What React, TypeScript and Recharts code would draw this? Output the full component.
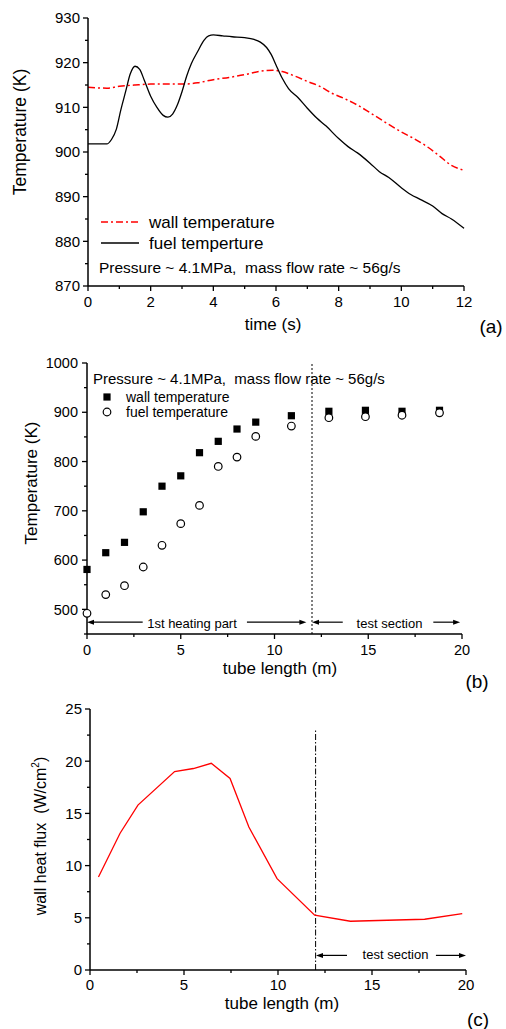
import React from 'react';
import { LineChart, Line, XAxis, YAxis, ScatterChart, Scatter, ReferenceLine } from 'recharts';

const FONT = '"Liberation Sans", Arial, Helvetica, sans-serif';

// ---------- Panel (a) ----------
const fuelTime = [0, 0.3, 0.6, 0.75, 0.9, 1.05, 1.2, 1.35, 1.5, 1.65, 1.8, 2.0, 2.2, 2.4, 2.55, 2.7, 2.85, 3.0, 3.15, 3.3, 3.5, 3.7, 3.85, 4.0, 4.3, 4.6, 5.0, 5.3, 5.5, 5.7, 5.85, 6.0, 6.2, 6.4, 6.7, 7.0, 7.3, 7.6, 8.0, 8.3, 8.6, 9.0, 9.3, 9.6, 10.0, 10.3, 10.6, 11.0, 11.3, 11.6, 12.0];
const fuelTemp = [901.8, 901.8, 901.8, 902.8, 905.0, 909.5, 913.5, 917.5, 919.2, 918.5, 916.0, 912.5, 910.0, 908.2, 907.8, 908.5, 910.5, 913.5, 917.0, 919.8, 922.5, 925.0, 926.0, 926.2, 926.0, 925.8, 925.6, 925.2, 924.6, 923.4, 921.8, 919.5, 916.5, 914.2, 912.2, 909.8, 907.6, 905.8, 903.0, 901.2, 899.8, 897.5, 895.6, 894.3, 892.0, 890.5, 889.4, 887.9, 886.2, 885.0, 882.9];
const wallTime = [0, 0.6, 1.0, 1.5, 2.0, 2.5, 3.0, 3.5, 4.0, 4.5, 5.0, 5.5, 5.9, 6.2, 6.6, 7.0, 7.4, 7.8, 8.2, 8.6, 9.0, 9.5, 10.0, 10.4, 10.8, 11.2, 11.6, 11.95];
const wallTemp = [914.5, 914.3, 914.7, 915.0, 915.2, 915.2, 915.2, 915.5, 916.2, 916.7, 917.3, 918.1, 918.3, 918.0, 917.0, 915.8, 914.7, 913.1, 911.9, 910.5, 908.8, 906.6, 904.5, 903.0, 901.3, 899.2, 897.0, 896.0];
const timeTicks = [0, 1, 2, 3, 4, 5, 6, 7, 8, 9, 10, 11, 12];
const tempATicks = [870, 875, 880, 885, 890, 895, 900, 905, 910, 915, 920, 925, 930];

// ---------- Panel (b) ----------
const tubeLenB = [0, 1, 2, 3, 4, 5, 6, 7, 8, 9, 10.9, 12.9, 14.85, 16.8, 18.8];
const wallTempB = [581, 615, 636, 698, 750, 771, 818, 841, 866, 880, 893, 902, 904, 902, 904];
const fuelTempB = [492, 530, 548, 586, 630, 674, 711, 790, 809, 851, 872, 889, 891, 894, 899];
const lengthTicks = [0, 2.5, 5, 7.5, 10, 12.5, 15, 17.5, 20];
const tempBTicks = [450, 500, 550, 600, 650, 700, 750, 800, 850, 900, 950, 1000];

// ---------- Panel (c) ----------
const fluxLen = [0.45, 1.6, 2.55, 4.5, 5.5, 6.45, 7.45, 8.45, 9.95, 11.95, 13.85, 17.8, 19.8];
const fluxVal = [8.9, 13.1, 15.8, 19.0, 19.3, 19.8, 18.35, 13.7, 8.75, 5.25, 4.67, 4.86, 5.4];
const fluxTicks = [0, 2.5, 5, 7.5, 10, 12.5, 15, 17.5, 20, 22.5, 25];

const fuelData = fuelTime.map((t, i) => ({ t, v: fuelTemp[i] }));
const wallData = wallTime.map((t, i) => ({ t, v: wallTemp[i] }));
const wallDataB = tubeLenB.map((x, i) => ({ x, y: wallTempB[i] }));
const fuelDataB = tubeLenB.map((x, i) => ({ x, y: fuelTempB[i] }));
const fluxData = fluxLen.map((x, i) => ({ x, y: fluxVal[i] }));

type Side = 'bottom' | 'left' | 'top' | 'right';
const makeTick = (side: Side, isMajor: (v: number) => boolean, labels: boolean, fontSize: number, gap: number) =>
  (props: any) => {
    const { x, y, payload } = props;
    const v = Number(payload.value);
    const major = isMajor(v);
    const len = major ? 5 : 3;
    let x2 = x, y2 = y;
    if (side === 'bottom' || side === 'top') y2 = y + len;
    else x2 = x - len;
    return (
      <g>
        <line x1={x} y1={y} x2={x2} y2={y2} stroke="#000" strokeWidth={1.3} />
        {labels && major && (side === 'bottom' ? (
          <text x={x} y={y + gap} dy="0.36em" textAnchor="middle" fontSize={fontSize} fontFamily={FONT} fill="#000">{v}</text>
        ) : (
          <text x={x - gap} y={y} dy="0.36em" textAnchor="end" fontSize={fontSize} fontFamily={FONT} fill="#000">{v}</text>
        ))}
      </g>
    );
  };

const arrowShape = (props: any) => {
  const { x1, y1, x2, y2 } = props;
  const dir = Math.sign(x2 - x1) || 1;
  return (
    <g>
      <line x1={x1} y1={y1} x2={x2 - dir * 5} y2={y2} stroke="#000" strokeWidth={1.2} />
      <polygon points={`${x2},${y2} ${x2 - dir * 7},${y2 - 2.5} ${x2 - dir * 7},${y2 + 2.5}`} fill="#000" />
    </g>
  );
};

const Txt = ({ x, y, size, children, rotate = 0, anchor = 'center', weight = 'normal' }: any) => (
  <div
    style={{
      position: 'absolute',
      left: x,
      top: y,
      transform: `translate(${anchor === 'left' ? '0' : '-50%'}, -50%) rotate(${rotate}deg)`,
      fontFamily: FONT,
      fontSize: size,
      fontWeight: weight,
      lineHeight: 1,
      whiteSpace: 'pre',
      color: '#000',
    }}
  >
    {children}
  </div>
);

const axisLine = { stroke: '#000', strokeWidth: 1.5 };

export default function App() {
  return (
    <div style={{ position: 'absolute', left: 0, top: 0, width: 506, height: 1029, background: '#fff', overflow: 'hidden' }}>
      {/* Panel (a) */}
      <div style={{ position: 'absolute', left: 0, top: 0 }}>
        <LineChart width={506} height={340} margin={{ top: 18, right: 42, left: 28, bottom: 24 }}>
          <XAxis type="number" dataKey="t" domain={[0, 12]} ticks={timeTicks} interval={0} tickSize={0} tickMargin={0} tickLine={false} axisLine={axisLine} height={30}
            tick={makeTick('bottom', (v) => v % 2 === 0, true, 15, 16)} />
          <YAxis type="number" domain={[870, 930]} ticks={tempATicks} interval={0} tickSize={0} tickMargin={0} tickLine={false} axisLine={axisLine} width={60}
            tick={makeTick('left', (v) => v % 10 === 0, true, 15, 8)} />
          <Line data={wallData} dataKey="v" type="monotone" stroke="#ff0000" strokeWidth={1.5} strokeDasharray="7 3 2 3" dot={false} isAnimationActive={false} />
          <Line data={fuelData} dataKey="v" type="monotone" stroke="#000" strokeWidth={1.3} dot={false} isAnimationActive={false} />
        </LineChart>
      </div>
      <Txt x={21} y={132} size={17.5} rotate={-90}>Temperature (K)</Txt>
      <Txt x={273} y={324} size={17}>time (s)</Txt>
      <Txt x={491} y={326} size={19}>(a)</Txt>
      <svg style={{ position: 'absolute', left: 0, top: 0 }} width={160} height={260}>
        <line x1={101} y1={222} x2={139} y2={222} stroke="#ff0000" strokeWidth={1.5} strokeDasharray="7 3 2 3" />
        <line x1={101} y1={243} x2={139} y2={243} stroke="#000" strokeWidth={1.3} />
      </svg>
      <Txt x={149} y={222} size={17} anchor="left">wall temperature</Txt>
      <Txt x={149} y={243} size={17} anchor="left">fuel temperture</Txt>
      <Txt x={99} y={268} size={15.5} anchor="left">{'Pressure ~ 4.1MPa,  mass flow rate ~ 56g/s'}</Txt>

      {/* Panel (b) */}
      <div style={{ position: 'absolute', left: 0, top: 340 }}>
        <ScatterChart width={506} height={340} margin={{ top: 23, right: 44, left: 27, bottom: 16 }}>
          <XAxis type="number" dataKey="x" domain={[0, 20]} ticks={lengthTicks} interval={0} tickSize={0} tickMargin={0} tickLine={false} axisLine={axisLine} height={30}
            tick={makeTick('bottom', (v) => v % 5 === 0, true, 14.5, 16)} />
          <XAxis xAxisId="t" orientation="top" type="number" dataKey="x" domain={[0, 20]} ticks={lengthTicks} interval={0} tickSize={0} tickMargin={0} tickLine={false} axisLine={axisLine} height={0}
            tick={makeTick('top', (v) => v % 5 === 0, false, 14, 0)} />
          <YAxis type="number" dataKey="y" domain={[450, 1000]} ticks={tempBTicks} interval={0} tickSize={0} tickMargin={0} tickLine={false} axisLine={axisLine} width={60}
            tick={makeTick('left', (v) => v % 100 === 0, true, 14.5, 9)} />
          <YAxis yAxisId="r" orientation="right" type="number" dataKey="y" domain={[450, 1000]} ticks={tempBTicks} interval={0} tickSize={0} tickMargin={0} tickLine={false} axisLine={axisLine} width={0}
            tick={makeTick('right', (v) => v % 100 === 0, false, 14, 0)} />
          <ReferenceLine x={12} stroke="#000" strokeWidth={1} strokeDasharray="2 2" />
          <ReferenceLine segment={[{ x: 2.97, y: 474 }, { x: 0, y: 474 }]} shape={arrowShape} />
          <ReferenceLine segment={[{ x: 8.53, y: 474 }, { x: 11.7, y: 474 }]} shape={arrowShape} />
          <ReferenceLine segment={[{ x: 13.64, y: 474 }, { x: 12.0, y: 474 }]} shape={arrowShape} />
          <ReferenceLine segment={[{ x: 18.47, y: 474 }, { x: 19.9, y: 474 }]} shape={arrowShape} />
          <Scatter data={wallDataB} dataKey="y" isAnimationActive={false}
            shape={(p: any) => <rect x={p.cx - 3.6} y={p.cy - 3.6} width={7.2} height={7.2} fill="#000" />} />
          <Scatter data={fuelDataB} dataKey="y" isAnimationActive={false}
            shape={(p: any) => <circle cx={p.cx} cy={p.cy} r={3.8} fill="#fff" stroke="#000" strokeWidth={1.2} />} />
        </ScatterChart>
      </div>
      <Txt x={31} y={483} size={17} rotate={-90}>Temperature (K)</Txt>
      <Txt x={280} y={668} size={17}>tube length (m)</Txt>
      <Txt x={477} y={681} size={19}>(b)</Txt>
      <Txt x={93} y={378} size={15} anchor="left">{'Pressure ~ 4.1MPa,  mass flow rate ~ 56g/s'}</Txt>
      <svg style={{ position: 'absolute', left: 0, top: 0 }} width={130} height={430}>
        <rect x={103.4} y={393.4} width={7.2} height={7.2} fill="#000" />
        <circle cx={107} cy={412} r={3.8} fill="#fff" stroke="#000" strokeWidth={1.2} />
      </svg>
      <Txt x={126} y={397} size={14} anchor="left">wall temperature</Txt>
      <Txt x={126} y={412} size={14} anchor="left">fuel temperature</Txt>
      <Txt x={192} y={622.5} size={13}>1st heating part</Txt>
      <Txt x={389.5} y={622.5} size={13}>test section</Txt>

      {/* Panel (c) */}
      <div style={{ position: 'absolute', left: 0, top: 680 }}>
        <LineChart width={506} height={349} margin={{ top: 29, right: 40, left: 30, bottom: 29 }}>
          <XAxis type="number" dataKey="x" domain={[0, 20]} ticks={lengthTicks} interval={0} tickSize={0} tickMargin={0} tickLine={false} axisLine={axisLine} height={30}
            tick={makeTick('bottom', (v) => v % 5 === 0, true, 15, 15)} />
          <YAxis type="number" domain={[0, 25]} ticks={fluxTicks} interval={0} tickSize={0} tickMargin={0} tickLine={false} axisLine={axisLine} width={60}
            tick={makeTick('left', (v) => v % 5 === 0, true, 15, 8)} />
          <ReferenceLine segment={[{ x: 12, y: 0 }, { x: 12, y: 23.05 }]} stroke="#000" strokeWidth={1} strokeDasharray="6 2 1.5 2" />
          <ReferenceLine segment={[{ x: 13.67, y: 1.4 }, { x: 12.02, y: 1.4 }]} shape={arrowShape} />
          <ReferenceLine segment={[{ x: 18.4, y: 1.4 }, { x: 20, y: 1.4 }]} shape={arrowShape} />
          <Line data={fluxData} dataKey="y" type="linear" stroke="#ff0000" strokeWidth={1.3} dot={false} isAnimationActive={false} />
        </LineChart>
      </div>
      <Txt x={40} y={836} size={16} rotate={-90}>{'wall heat flux  (W/cm'}<sup style={{ fontSize: 10 }}>2</sup>{')'}</Txt>
      <Txt x={282} y={1003} size={17}>tube length (m)</Txt>
      <Txt x={478} y={1019} size={19}>(c)</Txt>
      <Txt x={395.5} y={954} size={13}>test section</Txt>
    </div>
  );
}
